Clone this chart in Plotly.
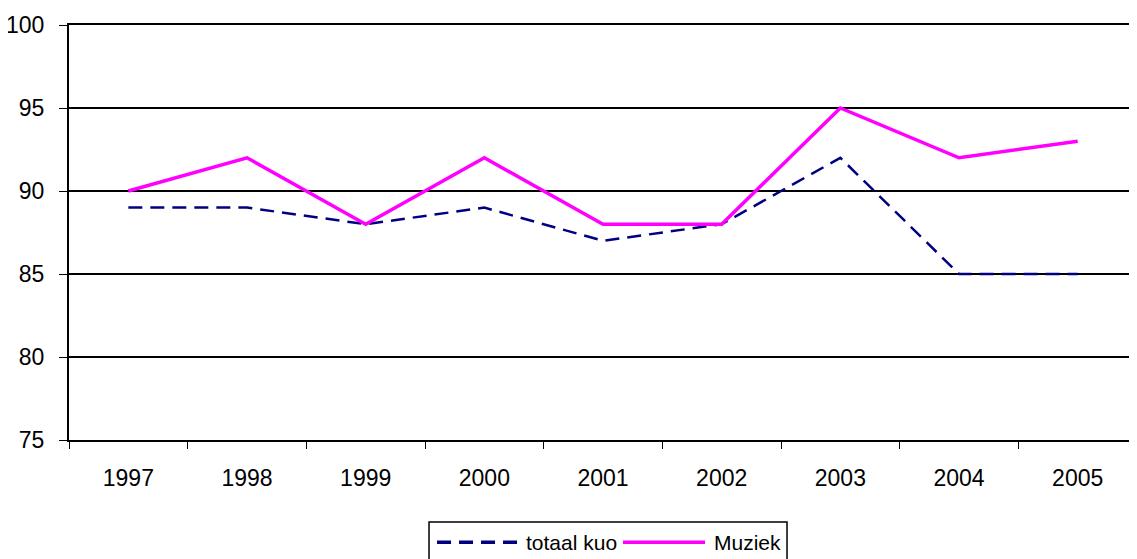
import plotly.graph_objects as go

years = ["1997", "1998", "1999", "2000", "2001", "2002", "2003", "2004", "2005"]
totaal_kuo = [89, 89, 88, 89, 87, 88, 92, 85, 85]
muziek = [90, 92, 88, 92, 88, 88, 95, 92, 93]

series = [
    ("totaal kuo", totaal_kuo, dict(color="#000080", width=2.5, dash="14px,8px")),
    ("Muziek", muziek, dict(color="#FF00FF", width=3.5)),
]

fig = go.Figure()
for name, vals, line in series:
    fig.add_trace(go.Scatter(x=years, y=vals, mode="lines", name=name, line=line,
                             showlegend=False))

# legend drawn by hand (Excel style: long line samples, boxed)
fig.add_shape(type="rect", xref="paper", yref="paper", x0=0.3371, x1=0.6723,
              y0=-0.32, y1=-0.1976, line=dict(color="black", width=1.5))
leg_y = -0.2465
leg_pos = [(0.3446, 0.4195, 0.4260), (0.5187, 0.5955, 0.6021)]
for (name, vals, line), (lx0, lx1, tx) in zip(series, leg_pos):
    fig.add_shape(type="line", xref="paper", yref="paper", x0=lx0, x1=lx1,
                  y0=leg_y, y1=leg_y, line=dict(line, width=3.5))
    fig.add_annotation(text=name, xref="paper", yref="paper", x=tx, y=leg_y,
                       xanchor="left", yanchor="middle", showarrow=False,
                       font=dict(size=21))

# page body has an 8px margin, so the figure is a bit smaller than the window
fig.update_layout(
    width=1129, height=551,
    margin=dict(l=61, r=0, t=17, b=119, autoexpand=False),
    plot_bgcolor="white", paper_bgcolor="white",
    font=dict(family="Liberation Sans, Arial", size=23, color="black"),
)
fig.update_xaxes(type="category", tickson="boundaries", ticks="outside", ticklen=7,
                 tickcolor="black", showline=True, linecolor="black", linewidth=2,
                 mirror=True, automargin=False,
                 showgrid=False, range=[-0.5, 8.5], ticklabelstandoff=16)
fig.update_yaxes(range=[75, 100], dtick=5, ticks="outside", ticklen=8, tickcolor="black",
                 showline=True, linecolor="black", linewidth=2, showgrid=True,
                 automargin=False, ticklabelstandoff=10,
                 gridcolor="black", gridwidth=1.5, zeroline=False)

fig.write_html("out.html")
